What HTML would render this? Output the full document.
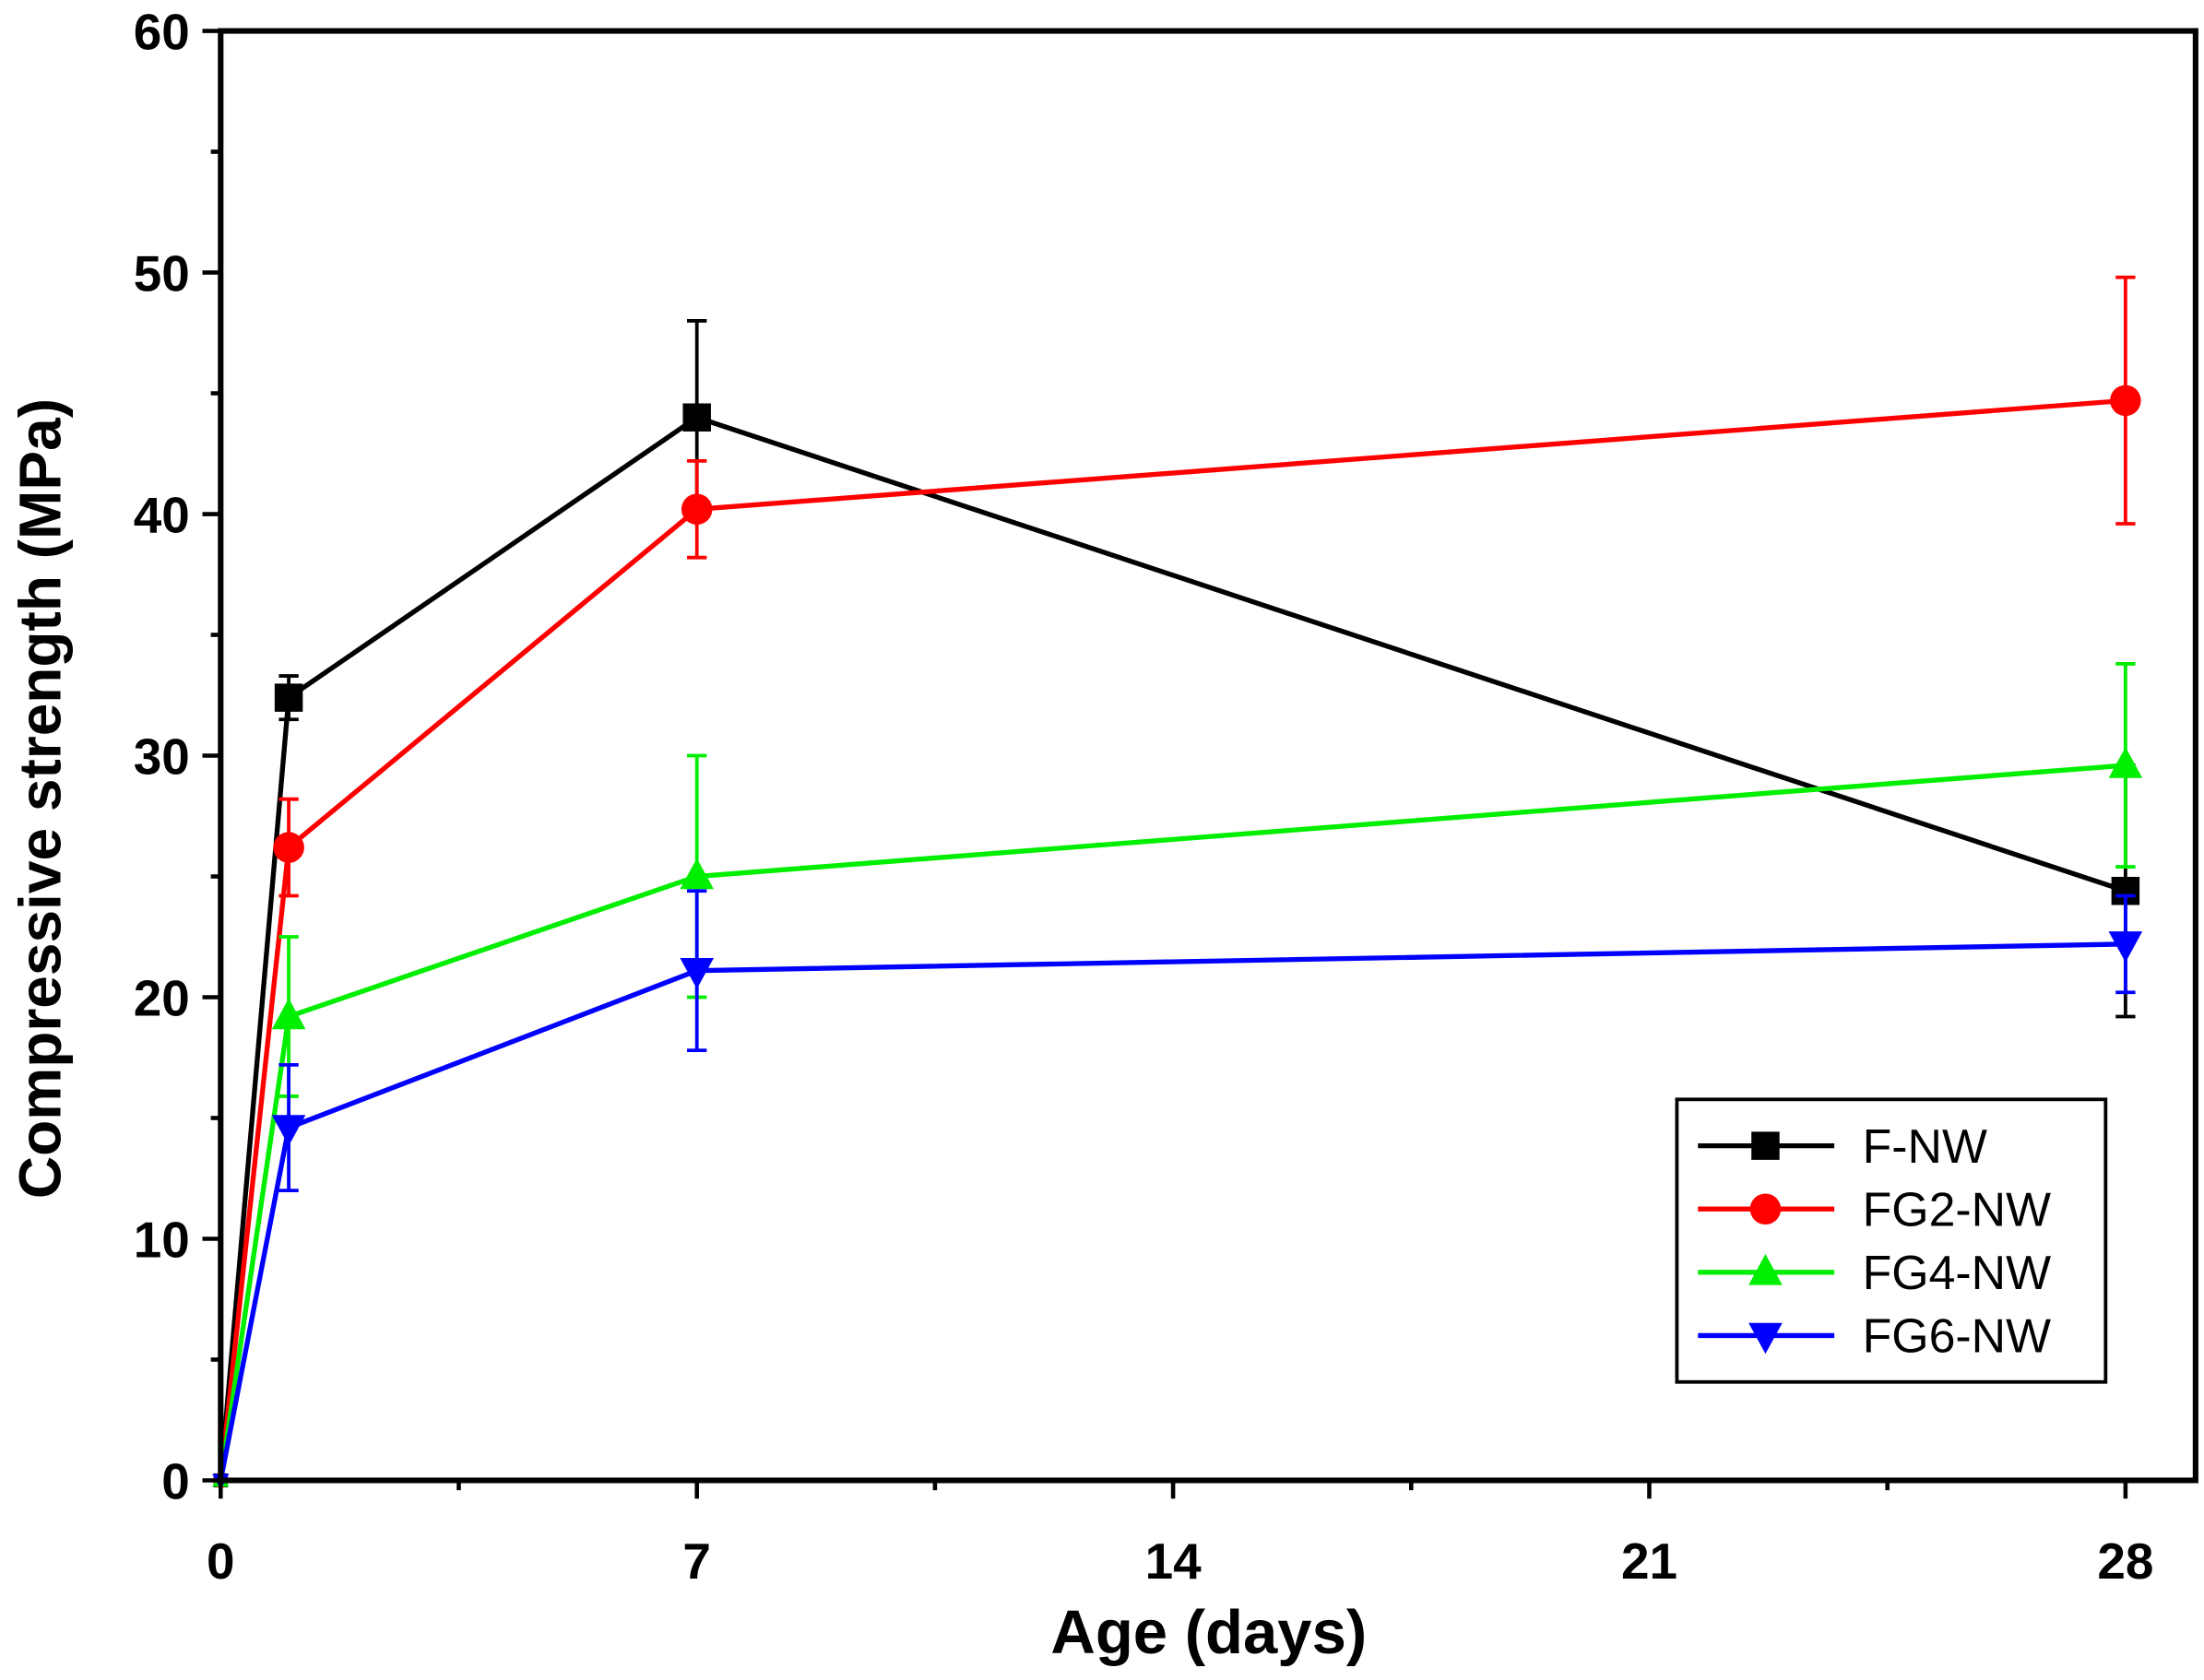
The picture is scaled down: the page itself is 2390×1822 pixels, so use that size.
<!DOCTYPE html>
<html><head><meta charset="utf-8"><style>html,body{margin:0;padding:0;background:#fff}svg{display:block}</style></head>
<body>
<svg width="2390" height="1822" viewBox="0 0 1568 1195" preserveAspectRatio="none" xmlns="http://www.w3.org/2000/svg" font-family="Liberation Sans, sans-serif">
<g id="plot"></g>
</svg>
<script>
const days = [0, 1, 7, 28];
const seriesNames = ["F-NW", "FG2-NW", "FG4-NW", "FG6-NW"];
const seriesColors = ["#000000", "#ff0000", "#00ee00", "#0000ff"];
const valsF = [0, 32.4, 44.0, 24.4];
const valsFG2 = [0, 26.2, 40.2, 44.7];
const valsFG4 = [0, 19.2, 25.0, 29.6];
const valsFG6 = [0, 14.6, 21.1, 22.2];
const errF = [0, 0.9, 4.0, 5.2];
const errFG2 = [0, 2.0, 2.0, 5.1];
const errFG4 = [0, 3.3, 5.0, 4.2];
const errFG6 = [0, 2.6, 3.3, 2.0];
const xTicks = [0, 7, 14, 21, 28];
const yTicks = [0, 10, 20, 30, 40, 50, 60];
const series = [valsF, valsFG2, valsFG4, valsFG6];
const errs = [errF, errFG2, errFG4, errFG6];
const markers = ["square", "circle", "up", "down"];

const L=157,R=1562,T=22,B=1053,XMAX=29.03,YMAX=60;
const xs=v=>L+v/XMAX*(R-L);
const ys=v=>B-v/YMAX*(B-T);
const NS="http://www.w3.org/2000/svg";
const g=document.getElementById('plot');
function mk(tag,attrs,parent){const e=document.createElementNS(NS,tag);for(const k in attrs)e.setAttribute(k,attrs[k]);(parent||g).appendChild(e);return e;}
function marker(type,x,y,c,parent,s){
  s=s||1;
  let e;
  if(type==="square") e=mk('rect',{x:x-10*s,y:y-10*s,width:20*s,height:20*s,fill:c},parent);
  else if(type==="circle") e=mk('circle',{cx:x,cy:y,r:11*s,fill:c},parent);
  else if(type==="up") e=mk('polygon',{points:`${x},${y-13*s} ${x-12*s},${y+9*s} ${x+12*s},${y+9*s}`,fill:c},parent);
  else e=mk('polygon',{points:`${x},${y+13*s} ${x-12*s},${y-9*s} ${x+12*s},${y-9*s}`,fill:c},parent);
  return e;
}
series.forEach((vals,si)=>{
  const c=seriesColors[si];
  const sg=mk('g',{});
  
  
  mk('polyline',{points:vals.map((v,i)=>xs(days[i])+','+ys(v)).join(' '),fill:'none',stroke:c,'stroke-width':3.5},sg);
  vals.forEach((v,i)=>{
    const e=errs[si][i];
    if(e>0){
      const x=xs(days[i]);
      const eb=mk('path',{d:`M${x},${ys(v-e)}V${ys(v+e)}M${x-7},${ys(v-e)}H${x+7}M${x-7},${ys(v+e)}H${x+7}`,stroke:c,'stroke-width':2.5,fill:'none'},sg);
      
      
    }
    const m=marker(markers[si],xs(days[i]),ys(v),c,sg,days[i]===0?0.5:1);
    
    
  });
});
const fr=mk('rect',{x:L,y:T,width:R-L,height:B-T,fill:'none',stroke:'#000','stroke-width':4});


yTicks.forEach(v=>{
  mk('line',{x1:L-13,x2:L,y1:ys(v),y2:ys(v),stroke:'#000','stroke-width':3});
  const t=mk('text',{x:L-22,y:ys(v)+13,'text-anchor':'end','font-size':36,'font-weight':'bold'});
  t.textContent=v;
  
  
});
for(let v=5;v<60;v+=10) mk('line',{x1:L-7,x2:L,y1:ys(v),y2:ys(v),stroke:'#000','stroke-width':3});
xTicks.forEach(v=>{
  mk('line',{x1:xs(v),x2:xs(v),y1:B,y2:B+13,stroke:'#000','stroke-width':3});
  const t=mk('text',{x:xs(v),y:B+70,'text-anchor':'middle','font-size':36,'font-weight':'bold'});
  t.textContent=v;
  
  
});
for(let v=3.5;v<29;v+=7) mk('line',{x1:xs(v),x2:xs(v),y1:B,y2:B+7,stroke:'#000','stroke-width':3});
const xt=mk('text',{x:860,y:1176,'text-anchor':'middle','font-size':44,'font-weight':'bold'});
xt.textContent='Age (days)';


const yt=mk('text',{x:0,y:0,'text-anchor':'middle','font-size':42,'font-weight':'bold',transform:'translate(43,568) rotate(-90)'});
yt.textContent='Compressive strength (MPa)';


const lg=mk('g',{});


mk('rect',{x:1193,y:782,width:305,height:201,fill:'#fff',stroke:'#000','stroke-width':2.5},lg);
seriesNames.forEach((n,i)=>{
  const y=815+i*45;
  const eg=mk('g',{},lg);
  
  
  mk('line',{x1:1208,x2:1305,y1:y,y2:y,stroke:seriesColors[i],'stroke-width':3.5},eg);
  marker(markers[i],1256,y,seriesColors[i],eg);
  const t=mk('text',{x:1325,y:y+12,'font-size':34},eg);
  t.textContent=n;
});
</script>
</body></html>
